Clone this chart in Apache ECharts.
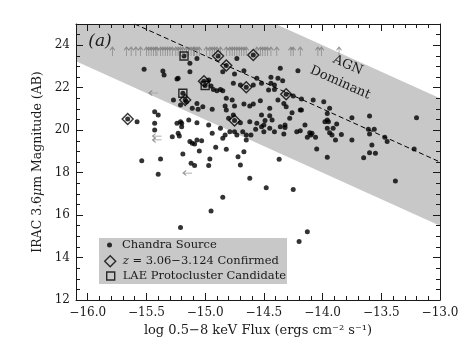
<!doctype html>
<meta charset="utf-8">
<style>
  html, body { margin: 0; height: 100%; background: #fff; }
  #chart { width: 463px; height: 348px; }
</style>
<script src="https://cdn.jsdelivr.net/npm/echarts@6/dist/echarts.min.js"></script>
<div id="chart"></div>
<script>
  // log Fx, IRAC 3.6um mag
  const chandraSources = [
    [-15.52, 22.87], [-15.36, 22.79], [-15.35, 22.60], [-15.24, 22.41], [-15.23, 22.44], [-15.13, 22.75], [-15.13, 23.15], [-15.07, 23.38],
    [-14.85, 22.75], [-14.73, 23.38], [-14.75, 22.64], [-14.67, 22.80], [-14.76, 22.21], [-14.70, 22.13], [-14.59, 22.13], [-14.52, 22.21],
    [-14.56, 22.44], [-14.44, 22.49], [-14.44, 22.21], [-14.41, 22.13], [-14.97, 22.36], [-14.95, 22.08], [-14.93, 21.92], [-14.90, 21.86],
    [-14.87, 21.92], [-14.85, 21.86], [-15.27, 21.42], [-15.21, 21.18], [-15.16, 21.34], [-15.11, 21.03], [-15.07, 21.26], [-15.06, 20.98],
    [-15.02, 21.10], [-14.94, 20.98], [-14.82, 21.50], [-14.83, 21.14], [-14.82, 20.95], [-14.77, 21.42], [-14.75, 21.14], [-14.67, 21.23],
    [-14.62, 21.14], [-14.59, 21.23], [-14.53, 21.39], [-14.45, 21.03], [-14.52, 20.71], [-15.43, 20.87], [-15.40, 20.71], [-15.21, 20.40],
    [-15.14, 20.48], [-15.07, 20.35], [-14.97, 20.24], [-14.80, 20.56], [-14.76, 20.71], [-14.70, 20.35], [-14.62, 20.40], [-14.56, 20.32],
    [-14.49, 20.45], [-14.43, 20.48], [-15.58, 20.40], [-15.43, 20.32], [-15.43, 20.01], [-15.24, 20.32], [-15.20, 20.32], [-15.20, 20.16],
    [-14.87, 20.09], [-14.79, 19.93], [-14.75, 19.93], [-14.73, 19.77], [-14.68, 19.93], [-14.65, 19.77], [-14.61, 19.77], [-14.57, 20.04],
    [-14.52, 20.16], [-14.50, 20.24], [-14.45, 20.09], [-14.41, 19.93], [-15.28, 19.69], [-15.23, 19.85], [-15.22, 19.72], [-15.13, 19.46],
    [-15.11, 19.38], [-15.09, 19.35], [-15.07, 19.54], [-15.03, 19.50], [-14.94, 19.85], [-14.85, 19.62], [-14.83, 19.77], [-14.65, 19.54],
    [-14.91, 19.19], [-14.82, 19.10], [-15.05, 19.02], [-15.19, 18.88], [-14.72, 18.75], [-14.67, 18.98], [-15.54, 18.56], [-15.38, 18.64],
    [-15.12, 18.44], [-15.09, 18.33], [-14.96, 18.64], [-14.97, 18.33], [-14.70, 18.36], [-15.40, 17.92], [-14.62, 17.73], [-14.48, 17.29],
    [-14.85, 16.84], [-14.95, 16.19], [-15.21, 15.42], [-14.37, 18.63], [-14.50, 19.93], [-14.36, 20.16], [-14.32, 20.24], [-14.32, 20.13],
    [-14.33, 19.82], [-14.22, 19.93], [-14.19, 19.97], [-14.15, 20.24], [-14.11, 19.88], [-14.10, 19.77], [-14.13, 19.66], [-14.06, 19.66],
    [-14.09, 19.85], [-13.98, 20.40], [-13.96, 20.09], [-13.95, 20.40], [-13.94, 19.88], [-13.91, 20.09], [-13.92, 19.77], [-13.88, 20.29],
    [-13.84, 19.80], [-13.89, 19.54], [-13.75, 19.54], [-13.61, 20.04], [-13.56, 20.04], [-13.60, 19.82], [-13.58, 19.30], [-13.47, 19.66],
    [-13.45, 19.46], [-13.60, 18.94], [-13.55, 18.91], [-13.65, 18.70], [-13.96, 18.72], [-14.05, 19.11], [-13.22, 19.11], [-13.38, 17.60],
    [-14.25, 17.21], [-14.13, 15.22], [-14.20, 14.75], [-14.36, 22.91], [-14.21, 22.80], [-14.38, 22.44], [-14.34, 22.33], [-14.46, 21.89],
    [-14.41, 21.92], [-14.25, 21.61], [-14.18, 21.47], [-14.38, 21.42], [-14.33, 21.26], [-14.31, 21.10], [-14.08, 21.42], [-13.99, 21.34],
    [-13.94, 21.03], [-14.19, 20.95], [-14.18, 20.95], [-14.26, 20.82], [-14.28, 20.56], [-14.45, 20.68], [-13.96, 20.79], [-13.96, 20.48],
    [-13.75, 20.59], [-13.60, 20.67], [-13.20, 20.59],
  ]
  const confirmed = [
    [-15.66, 20.53], [-15.01, 22.30], [-14.89, 23.49], [-14.82, 23.04], [-14.59, 23.54],
    [-14.65, 22.02], [-15.17, 21.42], [-14.75, 20.45], [-14.31, 21.69],
  ]
  const laeCandidates = [[-15.18, 23.49], [-15.00, 22.10], [-15.19, 21.74]]
  // IRAC upper limits (arrows up), all drawn at one magnitude
  const upperLimitMag = 23.7
  const upperLimitFlux = [
    -15.79, -15.67, -15.63, -15.59, -15.55, -15.50, -15.48, -15.46, -15.44, -15.42, -15.41, -15.38, -15.36, -15.34,
    -15.32, -15.30, -15.28, -15.25, -15.23, -15.21, -15.19, -15.16, -15.14, -15.12, -15.10, -15.09, -15.07, -15.05,
    -14.99, -14.96, -14.94, -14.92, -14.90, -14.87, -14.82, -14.79, -14.77, -14.75, -14.73, -14.71, -14.69, -14.67,
    -14.65, -14.56, -14.53, -14.51, -14.49, -14.47, -14.44, -14.39, -14.27, -14.25, -14.19, -14.04, -14.01, -13.86,
  ]
  // X-ray upper limits (arrows left)
  const fluxLimits = [[-15.44, 21.75], [-15.41, 19.72], [-15.41, 19.54], [-15.15, 17.98]]
  const agnBand = [[-16.1, 25], [-14.4, 25], [-13.0, 21.5], [-13.0, 15.5], [-16.1, 23.25]]
  const agnMidLine = [[-15.6, 25], [-13.0, 18.5]]

  const FONT = 'DejaVu Serif'
  const INK = '#1a1a1a'
  const GREY = '#c8c8c8'
  const ARROW_UP = 'path://M3,0 L3,10 M0.5,3.5 L3,0 L5.5,3.5'
  const ARROW_LEFT = 'path://M0,3 L10,3 M3.5,0.5 L0,3 L3.5,5.5'

  let chart = echarts.init(document.getElementById('chart'))

  function fluxLabel(v) {
    if (Math.abs(v * 2 - Math.round(v * 2)) > 1e-6) return ''
    return (v < 0 ? '\u2212' : '') + Math.abs(v).toFixed(1)
  }

  function xAxisOf(position, minor, labels) {
    return {
      type: 'value', position: position, min: -16.1, max: -13.0, z: 5,
      splitNumber: minor ? undefined : 6,
      interval: minor ? 0.1 : undefined,
      axisLine: { show: !minor, lineStyle: { color: INK, width: 1 } },
      axisTick: { inside: true, length: minor ? 4 : 7, lineStyle: { color: INK } },
      axisLabel: labels ? { formatter: fluxLabel, margin: 7, fontFamily: FONT, fontSize: 12, color: INK } : { show: false },
      splitLine: { show: false },
    }
  }

  function yAxisOf(position, minor, labels) {
    return {
      type: 'value', position: position, min: 12, max: 25, z: 5,
      interval: minor ? 0.5 : 2,
      axisLine: { show: !minor, lineStyle: { color: INK, width: 1 } },
      axisTick: { inside: true, length: minor ? 4 : 7, lineStyle: { color: INK } },
      axisLabel: labels ? { formatter: v => (v % 2 === 0 ? String(v) : ''), margin: 6, fontFamily: FONT, fontSize: 12, color: INK } : { show: false },
      splitLine: { show: false },
    }
  }

  let xMain = xAxisOf('bottom', false, true)
  xMain.name = 'log 0.5\u22128 keV Flux (ergs cm\u207B\u00B2 s\u207B\u00B9)'
  xMain.nameLocation = 'middle'
  xMain.nameGap = 21
  xMain.nameTextStyle = { fontFamily: FONT, fontSize: 13, color: INK }

  let yMain = yAxisOf('left', false, true)
  yMain.name = 'IRAC 3.6{it|\u03BC}m Magnitude (AB)'
  yMain.nameLocation = 'middle'
  yMain.nameGap = 27
  yMain.nameTextStyle = { fontFamily: FONT, fontSize: 12.5, color: INK, rich: { it: { fontFamily: FONT, fontSize: 12.5, fontStyle: 'italic', color: INK } } }

  const legendText = { fontFamily: FONT, fontSize: 11.5, color: INK }
  const hollow = { color: 'rgba(0,0,0,0)', borderColor: '#000', borderWidth: 1.4 }
  const arrowStyle = { color: 'rgba(0,0,0,0)', borderColor: '#7a7a7a', borderWidth: 1 }

  chart.setOption({
    animation: false,
    grid: { left: 76, right: 23, top: 24, bottom: 48, outerBoundsMode: 'none' },
    xAxis: [xMain, xAxisOf('bottom', true, false), xAxisOf('top', false, false), xAxisOf('top', true, false)],
    yAxis: [yMain, yAxisOf('left', true, false), yAxisOf('right', false, false), yAxisOf('right', true, false)],
    legend: [
      {
        data: [{ name: 'Chandra Source', icon: 'circle', itemStyle: { color: '#000' } }],
        left: 107, top: 239, padding: 0, itemWidth: 5, itemHeight: 5, selectedMode: false, z: 10,
        textStyle: Object.assign({ padding: [0, 0, 0, 5] }, legendText),
      },
      {
        data: [{ name: 'confirmed', icon: 'diamond', itemStyle: hollow }],
        left: 104, top: 255, padding: 0, itemWidth: 11, itemHeight: 11, selectedMode: false, z: 10,
        formatter: () => '{it|z} = 3.06\u22123.124 Confirmed',
        textStyle: Object.assign({ padding: [0, 0, 0, 2], rich: { it: { fontFamily: FONT, fontSize: 11.5, fontStyle: 'italic', color: INK } } }, legendText),
      },
      {
        data: [{ name: 'LAE Protocluster Candidate', icon: 'rect', itemStyle: hollow }],
        left: 106, top: 270, padding: 0, itemWidth: 8, itemHeight: 8, selectedMode: false, z: 10,
        textStyle: Object.assign({ padding: [0, 0, 0, 3] }, legendText),
      },
    ],
    graphic: [
      { type: 'rect', z: 8, shape: { x: 99, y: 238, width: 188, height: 46 }, style: { fill: GREY } },
      { type: 'text', z: 8, x: 100, y: 42, style: { text: '(a)', font: 'italic 17px "DejaVu Serif"', fill: INK, align: 'center', verticalAlign: 'middle' } },
      {
        type: 'text', z: 8, x: 344, y: 74, rotation: -0.417,
        style: { text: 'AGN\nDominant', font: '13px "DejaVu Serif"', lineHeight: 19, fill: INK, align: 'center', verticalAlign: 'middle' },
      },
    ],
    series: [
      {
        type: 'custom', silent: true, z: 1, data: [agnBand[0]],
        renderItem: (params, api) => ({
          type: 'polygon',
          shape: { points: agnBand.map(p => api.coord(p)) },
          style: { fill: GREY },
        }),
      },
      {
        type: 'line', silent: true, z: 2, data: agnMidLine, symbol: 'none',
        lineStyle: { color: '#000', width: 1, type: [5, 3] },
      },
      {
        name: 'Chandra Source', type: 'scatter', z: 3, symbolSize: 5,
        data: chandraSources.concat(confirmed, laeCandidates),
        itemStyle: { color: '#000' },
      },
      {
        name: 'confirmed', type: 'scatter', z: 4, symbol: 'diamond', symbolSize: 11,
        data: confirmed, itemStyle: hollow,
      },
      {
        name: 'LAE Protocluster Candidate', type: 'scatter', z: 4, symbol: 'rect', symbolSize: 8,
        data: laeCandidates, itemStyle: hollow,
      },
      {
        type: 'scatter', z: 3, symbol: ARROW_UP, symbolSize: [5, 9],
        data: upperLimitFlux.map(x => [x, upperLimitMag]),
        itemStyle: arrowStyle,
      },
      {
        type: 'scatter', z: 3, symbol: ARROW_LEFT, symbolSize: [9, 5],
        data: fluxLimits,
        itemStyle: arrowStyle,
      },
    ],
  })
</script>
